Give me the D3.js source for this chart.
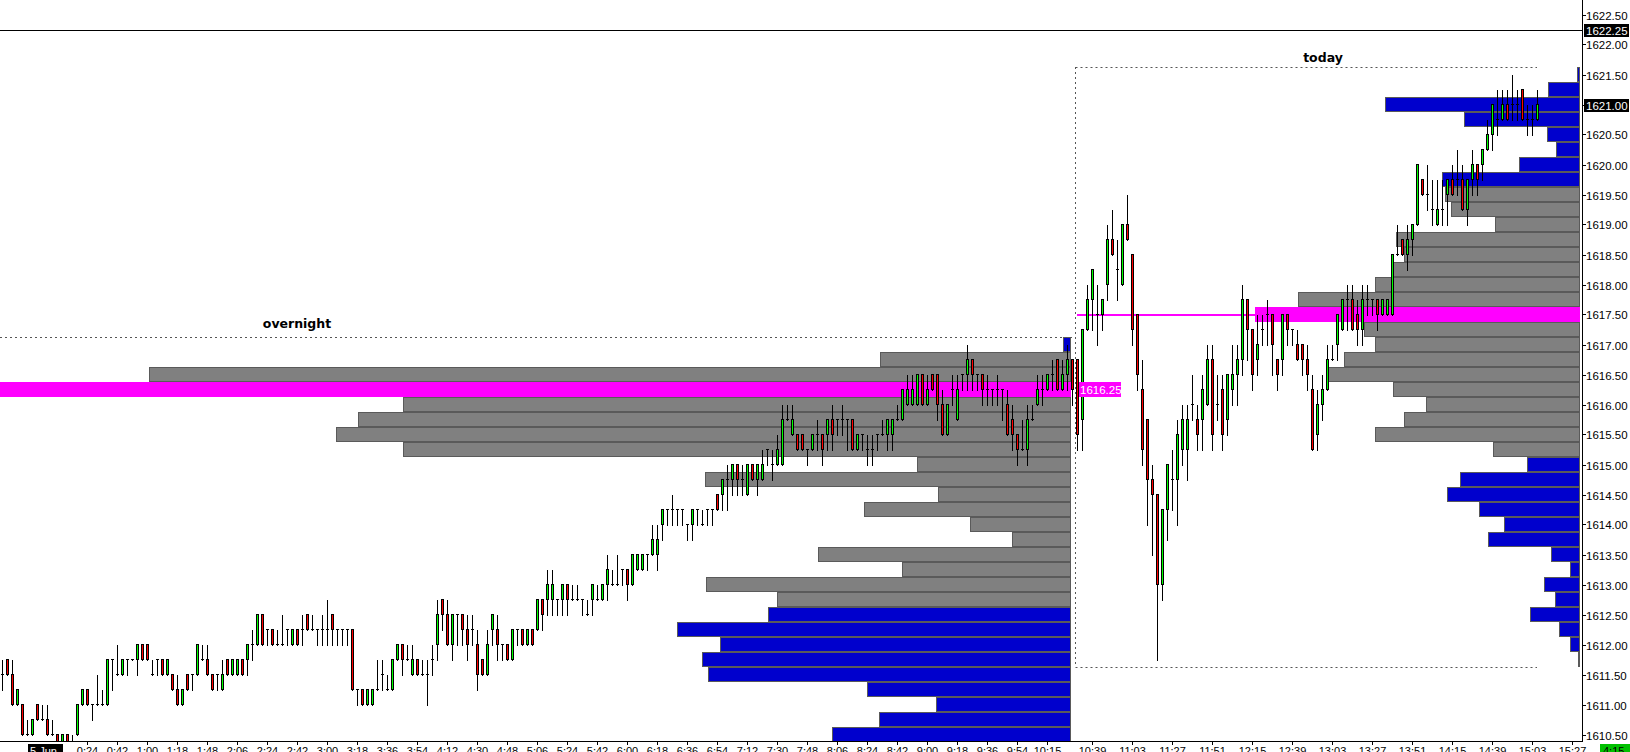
<!DOCTYPE html>
<html><head><meta charset="utf-8">
<script src="https://cdn.jsdelivr.net/npm/d3@7"></script>
<style>body{margin:0;background:#fff;overflow:hidden}svg{display:block}</style>
</head><body><svg id="c" width="1630" height="752"></svg>
<script>
// ---------- DATA ----------
const open = [
1611.5,1611.75,1611.5,1611.0,1611.0,1610.5,1610.5,1611.0,1610.75,1610.75,
1610.5,1610.5,1610.25,1610.5,1610.25,1610.5,1611.0,1611.25,1611.0,1611.0,
1611.0,1611.0,1611.75,1611.5,1611.5,1611.75,1611.75,1611.75,1612.0,1612.0,
1611.5,1611.75,1611.75,1611.5,1611.5,1611.25,1611.0,1611.5,1611.5,1611.5,
1611.75,1611.75,1611.5,1611.5,1611.25,1611.75,1611.5,1611.5,1611.75,1611.75,
1612.0,1612.0,1612.5,1612.25,1612.25,1612.0,1612.0,1612.25,1612.0,1612.25,
1612.25,1612.5,1612.25,1612.25,1612.25,1612.25,1612.5,1612.25,1612.25,1612.25,
1612.25,1611.25,1611.25,1611.0,1611.0,1611.25,1611.5,1611.25,1611.25,1611.75,
1612.0,1611.75,1611.5,1611.75,1611.5,1611.5,1611.75,1612.0,1612.75,1612.5,
1612.0,1612.5,1612.5,1612.25,1612.25,1612.0,1611.75,1611.5,1612.25,1612.25,
1612.0,1612.0,1611.75,1612.25,1612.25,1612.0,1612.25,1612.25,1612.75,1612.75,
1612.75,1612.75,1612.75,1613.0,1612.75,1612.75,1612.75,1612.5,1612.75,1612.75,
1612.75,1613.0,1613.0,1613.0,1613.25,1613.25,1613.0,1613.25,1613.25,1613.5,
1613.5,1613.5,1614.0,1614.25,1614.25,1614.25,1614.25,1614.0,1614.0,1614.25,
1614.0,1614.25,1614.25,1614.5,1614.5,1614.75,1614.75,1615.0,1614.75,1614.5,
1615.0,1614.75,1614.75,1615.25,1615.0,1615.0,1615.0,1615.75,1615.5,1615.5,
1615.5,1615.25,1615.25,1615.5,1615.5,1615.5,1615.75,1615.75,1615.75,1615.75,
1615.75,1615.25,1615.5,1615.25,1615.25,1615.5,1615.5,1615.5,1615.5,1615.75,
1615.75,1616.0,1616.0,1616.0,1616.5,1616.0,1616.5,1616.5,1616.0,1615.5,
1616.25,1615.75,1616.5,1616.5,1616.75,1616.5,1616.5,1616.25,1616.25,1616.25,
1616.25,1616.0,1615.75,1615.5,1615.25,1615.25,1615.75,1616.0,1616.25,1616.25,
1616.5,1616.75,1616.25,1616.5,1616.75,
1616.75,1615.75,1617.25,1617.75,1617.5,1617.5,1618.0,1618.75,1618.25,1618.0,
1619.0,1618.5,1617.5,1616.25,1615.75,1614.75,1614.5,1613.0,1614.25,1614.75,
1614.75,1615.25,1615.25,1616.0,1615.75,1615.75,1616.0,1616.75,1616.0,1616.25,
1615.75,1616.25,1616.5,1616.75,1617.75,1617.25,1616.75,1617.25,1617.5,1617.5,
1616.75,1616.75,1617.5,1617.25,1617.0,1617.0,1616.75,1616.25,1615.5,1616.0,
1616.25,1616.75,1617.0,1617.25,1617.75,1617.75,1617.5,1617.25,1617.75,1617.75,
1617.75,1617.5,1617.5,1617.5,1618.5,1618.75,1618.5,1618.75,1619.0,1619.75,
1619.5,1619.25,1619.0,1619.25,1619.5,1619.75,1619.75,1619.75,1619.25,1619.75,
1620.0,1620.0,1620.25,1620.5,1620.75,1620.75,1621.0,1621.0,1621.0,1621.25,
1620.75,1620.75,1620.75];
const high = [
1611.75,1611.75,1611.75,1611.25,1611.0,1610.75,1610.75,1611.0,1611.0,1611.0,
1610.75,1610.5,1610.5,1610.5,1610.5,1611.0,1611.25,1611.25,1611.0,1611.5,
1611.25,1611.75,1611.75,1612.0,1611.75,1611.75,1611.75,1612.0,1612.0,1612.0,
1611.75,1611.75,1611.75,1611.75,1611.5,1611.5,1611.25,1611.5,1611.5,1612.0,
1612.0,1612.0,1611.5,1611.5,1611.75,1611.75,1611.75,1611.75,1611.75,1612.0,
1612.25,1612.5,1612.5,1612.25,1612.25,1612.25,1612.5,1612.25,1612.25,1612.25,
1612.5,1612.5,1612.5,1612.25,1612.5,1612.75,1612.5,1612.25,1612.25,1612.25,
1612.25,1611.25,1611.25,1611.25,1611.25,1611.75,1611.75,1611.5,1611.75,1612.0,
1612.0,1612.0,1612.0,1611.75,1611.75,1611.75,1612.0,1612.75,1612.75,1612.75,
1612.5,1612.5,1612.5,1612.5,1612.5,1612.25,1611.75,1612.25,1612.5,1612.5,
1612.0,1612.0,1612.25,1612.25,1612.25,1612.25,1612.25,1612.75,1612.75,1613.25,
1613.25,1612.75,1613.0,1613.0,1613.0,1613.0,1612.75,1612.75,1613.0,1613.0,
1613.0,1613.5,1613.25,1613.5,1613.25,1613.25,1613.5,1613.5,1613.5,1613.5,
1614.0,1614.0,1614.25,1614.25,1614.5,1614.25,1614.25,1614.0,1614.25,1614.25,
1614.25,1614.25,1614.25,1614.5,1614.75,1615.0,1615.0,1615.0,1615.0,1615.0,
1615.0,1615.0,1615.25,1615.25,1615.25,1615.5,1616.0,1616.0,1616.0,1615.5,
1615.5,1615.25,1615.5,1615.75,1615.5,1615.75,1616.0,1615.75,1616.0,1615.75,
1615.75,1615.5,1615.5,1615.5,1615.5,1615.5,1615.75,1615.75,1615.75,1616.0,
1616.25,1616.5,1616.5,1616.5,1616.5,1616.5,1616.5,1616.5,1616.25,1616.0,
1616.5,1616.5,1616.5,1617.0,1616.75,1616.5,1616.5,1616.5,1616.25,1616.5,
1616.25,1616.25,1616.0,1615.5,1615.75,1616.0,1616.0,1616.5,1616.5,1616.5,
1616.75,1616.75,1616.75,1617.0,1616.75,
1616.75,1617.25,1618.0,1618.25,1618.0,1617.75,1619.0,1619.25,1618.75,1619.0,
1619.5,1618.5,1617.5,1616.75,1615.75,1615.0,1614.5,1614.25,1615.0,1615.25,
1615.75,1616.0,1616.0,1616.5,1616.0,1616.5,1617.0,1617.0,1616.5,1616.5,
1616.5,1617.0,1617.0,1618.0,1617.75,1617.25,1617.5,1617.5,1617.75,1617.5,
1616.75,1617.5,1617.5,1617.25,1617.25,1617.0,1617.0,1616.5,1616.25,1616.5,
1617.0,1617.0,1617.5,1617.75,1618.0,1618.0,1617.75,1618.0,1618.0,1617.75,
1617.75,1617.75,1617.75,1618.5,1619.0,1618.75,1619.0,1619.0,1620.0,1619.75,
1620.0,1619.75,1619.75,1619.75,1619.75,1620.0,1620.25,1620.0,1619.75,1620.25,
1620.0,1620.25,1620.75,1621.0,1621.25,1621.25,1621.25,1621.5,1621.25,1621.25,
1621.0,1621.0,1621.25];
const low = [
1611.25,1611.5,1611.0,1611.0,1610.5,1610.5,1610.5,1610.75,1610.75,1610.5,
1610.5,1610.25,1610.25,1610.25,1610.25,1610.5,1611.0,1611.0,1610.75,1611.0,
1611.0,1611.0,1611.25,1611.5,1611.5,1611.5,1611.75,1611.5,1611.75,1611.75,
1611.5,1611.5,1611.5,1611.5,1611.25,1611.0,1611.0,1611.25,1611.25,1611.5,
1611.75,1611.5,1611.25,1611.25,1611.25,1611.5,1611.5,1611.5,1611.5,1611.5,
1611.75,1612.0,1612.0,1612.0,1612.0,1612.0,1612.0,1612.0,1612.0,1612.0,
1612.0,1612.25,1612.25,1612.0,1612.0,1612.0,1612.0,1612.0,1612.0,1612.0,
1611.25,1611.0,1611.0,1611.0,1611.0,1611.25,1611.25,1611.25,1611.25,1611.75,
1611.5,1611.75,1611.5,1611.5,1611.5,1611.0,1611.5,1611.75,1612.25,1612.0,
1611.75,1612.0,1612.0,1611.75,1612.0,1611.25,1611.5,1611.5,1612.0,1611.75,
1611.75,1611.75,1611.75,1612.0,1612.0,1612.0,1612.0,1612.25,1612.25,1612.5,
1612.5,1612.5,1612.5,1612.5,1612.75,1612.75,1612.5,1612.5,1612.5,1612.75,
1612.75,1612.75,1613.0,1613.0,1613.0,1612.75,1613.0,1613.25,1613.25,1613.25,
1613.5,1613.25,1613.75,1614.0,1614.0,1614.0,1614.0,1613.75,1613.75,1614.0,
1614.0,1614.0,1614.0,1614.25,1614.25,1614.25,1614.5,1614.5,1614.5,1614.5,
1614.75,1614.5,1614.75,1615.0,1614.75,1615.0,1615.0,1615.75,1615.5,1615.25,
1615.25,1615.0,1615.25,1615.25,1615.0,1615.25,1615.25,1615.5,1615.5,1615.25,
1615.25,1615.25,1615.25,1615.0,1615.0,1615.25,1615.5,1615.25,1615.25,1615.75,
1615.75,1616.0,1616.0,1616.0,1616.0,1616.0,1616.25,1615.75,1615.5,1615.5,
1616.0,1615.75,1616.25,1616.25,1616.25,1616.25,1616.0,1616.0,1616.0,1616.0,
1615.75,1615.5,1615.25,1615.0,1615.25,1615.0,1615.75,1616.0,1616.0,1616.25,
1616.25,1616.25,1616.25,1616.25,1616.0,
1615.25,1615.25,1617.25,1617.25,1617.0,1617.25,1617.75,1618.5,1617.75,1618.0,
1618.75,1617.0,1616.25,1615.0,1614.0,1613.5,1611.75,1612.75,1613.75,1614.25,
1614.0,1615.0,1614.75,1615.75,1615.25,1615.25,1616.0,1615.25,1615.75,1615.25,
1615.5,1616.0,1616.0,1616.5,1616.75,1616.25,1616.5,1617.0,1617.0,1616.5,
1616.25,1616.5,1617.0,1617.0,1616.75,1616.5,1616.25,1615.25,1615.25,1615.75,
1616.25,1616.75,1616.75,1617.25,1617.25,1617.25,1617.0,1617.0,1617.5,1617.5,
1617.25,1617.5,1617.5,1617.5,1618.5,1618.5,1618.25,1618.5,1619.0,1619.5,
1619.25,1619.0,1619.0,1619.0,1619.0,1619.5,1619.5,1619.25,1619.0,1619.5,
1619.5,1619.75,1620.25,1620.25,1620.5,1620.75,1620.75,1620.75,1620.75,1620.75,
1620.5,1620.5,1620.75];
const close = [
1611.5,1611.5,1611.0,1611.25,1610.5,1610.5,1610.75,1610.75,1610.75,1610.5,
1610.5,1610.25,1610.5,1610.25,1610.25,1611.0,1611.25,1611.0,1611.0,1611.0,
1611.0,1611.75,1611.75,1611.5,1611.75,1611.75,1611.75,1612.0,1611.75,1611.75,
1611.5,1611.75,1611.5,1611.75,1611.25,1611.0,1611.25,1611.25,1611.5,1612.0,
1611.75,1611.5,1611.25,1611.5,1611.5,1611.5,1611.75,1611.75,1611.5,1612.0,
1612.0,1612.5,1612.0,1612.25,1612.0,1612.0,1612.0,1612.25,1612.25,1612.0,
1612.25,1612.25,1612.25,1612.25,1612.25,1612.25,1612.25,1612.25,1612.25,1612.25,
1611.25,1611.25,1611.0,1611.25,1611.25,1611.25,1611.5,1611.25,1611.75,1612.0,
1611.75,1611.75,1611.75,1611.5,1611.5,1611.5,1611.75,1612.5,1612.5,1612.0,
1612.5,1612.5,1612.25,1612.0,1612.25,1611.5,1611.5,1612.0,1612.5,1612.0,
1612.0,1611.75,1612.25,1612.25,1612.0,1612.25,1612.0,1612.75,1612.5,1613.0,
1613.0,1612.75,1613.0,1612.75,1612.75,1612.75,1612.75,1612.5,1613.0,1612.75,
1613.0,1613.25,1613.0,1613.0,1613.25,1613.0,1613.5,1613.5,1613.5,1613.5,
1613.75,1613.75,1614.25,1614.25,1614.25,1614.25,1614.25,1614.0,1614.25,1614.25,
1614.0,1614.25,1614.25,1614.25,1614.75,1614.75,1615.0,1614.75,1614.75,1615.0,
1614.75,1615.0,1615.0,1615.25,1615.0,1615.25,1615.75,1615.75,1615.75,1615.25,
1615.25,1615.25,1615.5,1615.5,1615.25,1615.75,1615.5,1615.75,1615.75,1615.75,
1615.25,1615.5,1615.5,1615.25,1615.25,1615.5,1615.5,1615.75,1615.75,1615.75,
1616.25,1616.25,1616.25,1616.5,1616.0,1616.25,1616.25,1616.0,1615.5,1616.0,
1616.25,1616.25,1616.5,1616.75,1616.5,1616.5,1616.25,1616.25,1616.25,1616.25,
1616.25,1615.5,1615.5,1615.25,1615.25,1615.75,1615.75,1616.25,1616.25,1616.5,
1616.5,1616.25,1616.5,1616.75,1616.25,
1615.5,1617.25,1617.75,1618.25,1617.5,1617.75,1618.75,1618.5,1618.25,1619.0,
1618.75,1617.25,1616.5,1615.25,1614.75,1614.5,1613.0,1614.25,1615.0,1614.75,
1615.5,1615.75,1615.75,1616.0,1615.5,1616.25,1616.75,1615.5,1616.0,1615.5,
1616.5,1616.5,1616.75,1617.75,1617.25,1616.5,1617.0,1617.25,1617.5,1617.0,
1616.5,1617.5,1617.25,1617.25,1616.75,1616.75,1616.5,1615.25,1616.0,1616.25,
1616.75,1616.75,1617.5,1617.75,1617.75,1617.25,1617.25,1617.75,1617.75,1617.75,
1617.5,1617.75,1617.75,1618.5,1618.5,1618.5,1618.75,1619.0,1620.0,1619.5,
1619.5,1619.25,1619.25,1619.25,1619.75,1619.5,1619.75,1619.25,1619.75,1620.0,
1619.75,1620.25,1620.5,1621.0,1620.75,1621.0,1620.75,1621.0,1621.0,1620.75,
1620.75,1620.75,1621.0];

const sessionSplit = 215;           // first bar of "today"
const overnightPrices = [1617.0,1616.75,1616.5,1616.25,1616.0,1615.75,1615.5,1615.25,1615.0,1614.75,1614.5,1614.25,1614.0,1613.75,1613.5,1613.25,1613.0,1612.75,1612.5,1612.25,1612.0,1611.75,1611.5,1611.25,1611.0,1610.75,1610.5];
const overnightVolume = [80,1910,9220,11000,6680,7130,7350,6680,1540,3660,1330,2070,1010,590,2530,1690,3650,2940,3030,3940,3510,3690,3630,2040,1350,1920,2390];
const overnightVA = [1612.75, 1616.75];
const overnightPOC = 1616.25;

const todayPrices = [1621.5,1621.25,1621.0,1620.75,1620.5,1620.25,1620.0,1619.75,1619.5,1619.25,1619.0,1618.75,1618.5,1618.25,1618.0,1617.75,1617.5,1617.25,1617.0,1616.75,1616.5,1616.25,1616.0,1615.75,1615.5,1615.25,1615.0,1614.75,1614.5,1614.25,1614.0,1613.75,1613.5,1613.25,1613.0,1612.75,1612.5,1612.25,1612.0,1611.75];
const todayVolume = [30,320,1950,1160,330,240,610,1380,1350,1290,855,1840,1760,1870,2055,2825,3250,2165,2055,2360,2520,1870,1545,1760,2055,870,535,1200,1335,1010,765,920,290,100,365,255,505,210,100,20];
const todayVA = [1615.25, 1619.5];
const todayPOC = 1617.5;

const priceTicks = [1622.5,1622.0,1621.5,1621.0,1620.5,1620.0,1619.5,1619.0,1618.5,1618.0,1617.5,1617.0,1616.5,1616.0,1615.5,1615.0,1614.5,1614.0,1613.5,1613.0,1612.5,1612.0,1611.5,1611.0,1610.5];
const timeLabels = ["0:24","0:42","1:00","1:18","1:48","2:06","2:24","2:42","3:00","3:18","3:36","3:54","4:12","4:30","4:48","5:06","5:24","5:42","6:00","6:18","6:36","6:54","7:12","7:30","7:48","8:06","8:24","8:42","9:00","9:18","9:36","9:54","10:15",
  "10:39","11:03","11:27","11:51","12:15","12:39","13:03","13:27","13:51","14:15","14:39","15:03","15:27"];
const timeBars = [17,23,29,35,41,47,53,59,65,71,77,83,89,95,101,107,113,119,125,131,137,143,149,155,161,167,173,179,185,191,197,203,209,
  218,226,234,242,250,258,266,274,282,290,298,306,314];
const askPrice = 1622.25;
const lastPrice = 1621.0;

// ---------- LAYOUT ----------
const W = 1630, H = 752, axisX = 1582, axisY = 741;
const svg = d3.select("#c");
const y = d3.scaleLinear().domain([1610.5, 1622.5]).range([734.5, 14.5]);
const x = d3.scaleLinear().domain([0, 314]).range([1.7, 1571.7]);
const tick = 0.25;
const font = "'Liberation Sans', Arial, sans-serif";

svg.append("defs").append("clipPath").attr("id","plot")
  .append("rect").attr("x",0).attr("y",0).attr("width",axisX).attr("height",axisY);
const plot = svg.append("g").attr("clip-path","url(#plot)");

// ask line
plot.append("line").attr("x1",0).attr("x2",axisX).attr("y1",Math.round(y(askPrice))+0.5).attr("y2",Math.round(y(askPrice))+0.5)
  .attr("stroke","#000").attr("stroke-width",1);

// ---------- PROFILES ----------
function drawProfile(prices, vols, va, poc, rightEdge, maxW) {
  const vs = d3.scaleLinear().domain([0, d3.max(vols)]).range([0, maxW]);
  const g = plot.append("g").attr("shape-rendering","crispEdges");
  prices.forEach((p, k) => {
    const w = vs(vols[k]);
    const top = Math.round(y(p + tick/2));
    const hgt = Math.round(y(p - tick/2)) - top;
    const isPoc = p === poc;
    const inVA = p >= va[0] && p <= va[1];
    const fill = isPoc ? "#ff00ff" : (inVA ? "#808080" : "#0000cd");
    g.append("rect")
      .attr("x", rightEdge - w + 0.5).attr("y", top + 0.5)
      .attr("width", Math.max(w - 1, 0.5)).attr("height", hgt - 1)
      .attr("fill", fill)
      .attr("stroke", isPoc ? "#ff00ff" : "#5a5a5a").attr("stroke-width", 1);
  });
}
drawProfile(overnightPrices, overnightVolume, overnightVA, overnightPOC, Math.round(x(sessionSplit-1)) - 1, 1100);
drawProfile(todayPrices, todayVolume, todayVA, todayPOC, axisX - 2, 325);

// ---------- SESSION BOXES ----------
const dash = "2,3", dcol = "#555";
const onHigh = d3.max(high.slice(0, sessionSplit)) + tick/2;
const tdHigh = d3.max(high.slice(sessionSplit)) + tick/2;
const tdLow = d3.min(low.slice(sessionSplit)) - tick/2;
const boxL = Math.round(x(sessionSplit) - 2) + 0.5;
const boxR = Math.round(x(close.length - 1));
plot.append("line").attr("x1",0).attr("x2",Math.round(x(sessionSplit-1))).attr("y1",Math.round(y(onHigh))+0.5).attr("y2",Math.round(y(onHigh))+0.5)
  .attr("stroke",dcol).attr("stroke-dasharray",dash);
plot.append("line").attr("x1",boxL).attr("x2",boxR).attr("y1",Math.round(y(tdHigh))+0.5).attr("y2",Math.round(y(tdHigh))+0.5)
  .attr("stroke",dcol).attr("stroke-dasharray",dash);
plot.append("line").attr("x1",boxL).attr("x2",boxR).attr("y1",Math.round(y(tdLow))+0.5).attr("y2",Math.round(y(tdLow))+0.5)
  .attr("stroke",dcol).attr("stroke-dasharray",dash);
plot.append("line").attr("x1",boxL).attr("x2",boxL).attr("y1",Math.round(y(tdHigh))).attr("y2",Math.round(y(tdLow)))
  .attr("stroke",dcol).attr("stroke-dasharray",dash);

// today POC line
{
  const vs = d3.scaleLinear().domain([0, d3.max(todayVolume)]).range([0, 325]);
  plot.append("line").attr("x1", Math.round(x(sessionSplit))).attr("x2", axisX - 2 - vs(d3.max(todayVolume)))
    .attr("y1", y(todayPOC)+0.5).attr("y2", y(todayPOC)+0.5).attr("stroke","#ff00ff").attr("stroke-width",2);
}

// ---------- CANDLES ----------
const n = Math.min(open.length, high.length, low.length, close.length);
const cg = plot.append("g").attr("shape-rendering","crispEdges");
for (let i = 0; i < n; i++) {
  const c = Math.round(x(i));
  const o = open[i], cl = close[i];
  const hi = Math.max(high[i], o, cl), lo = Math.min(low[i], o, cl);
  cg.append("line").attr("x1", c + 0.5).attr("x2", c + 0.5).attr("y1", y(hi)).attr("y2", y(lo) + 1)
    .attr("stroke", "#000").attr("stroke-width", 1);
  if (o === cl) {
    cg.append("line").attr("x1", c - 1).attr("x2", c + 2).attr("y1", y(o)).attr("y2", y(o))
      .attr("stroke", "#000").attr("stroke-width", 1);
  } else {
    const top = y(Math.max(o, cl)), bot = y(Math.min(o, cl));
    cg.append("rect").attr("x", c - 0.5).attr("y", top).attr("width", 2).attr("height", bot - top)
      .attr("fill", cl > o ? "#00ff00" : "#ff0000").attr("stroke", "#000").attr("stroke-width", 1);
  }
}

// overnight POC label
{
  const lx = Math.round(x(sessionSplit)) + 2;
  const top = Math.round(y(overnightPOC + tick/2));
  plot.append("rect").attr("x", lx).attr("y", top).attr("width", 42).attr("height", 15).attr("fill", "#ff00ff");
  plot.append("text").attr("x", lx + 1).attr("y", top + 12).attr("fill", "#fff")
    .attr("font-family", font).attr("font-size", "11.5px").text(overnightPOC.toFixed(2));
}

// session titles
svg.append("text").attr("x", 297).attr("y", 327.5).attr("text-anchor","middle")
  .attr("font-family","'DejaVu Sans', Verdana, sans-serif").attr("font-weight","bold").attr("font-size","12.5px").text("overnight");
svg.append("text").attr("x", 1323).attr("y", 62).attr("text-anchor","middle")
  .attr("font-family","'DejaVu Sans', Verdana, sans-serif").attr("font-weight","bold").attr("font-size","12.5px").text("today");

// ---------- AXES ----------
const ax = svg.append("g").attr("shape-rendering","crispEdges");
ax.append("line").attr("x1", axisX + 0.5).attr("x2", axisX + 0.5).attr("y1", 0).attr("y2", axisY + 1).attr("stroke", "#000");
ax.append("line").attr("x1", 0).attr("x2", axisX + 1).attr("y1", axisY + 0.5).attr("y2", axisY + 0.5).attr("stroke", "#000");
priceTicks.forEach(p => {
  const yy = Math.round(y(p)) + 0.5;
  ax.append("line").attr("x1", axisX).attr("x2", axisX + 4).attr("y1", yy).attr("y2", yy).attr("stroke", "#000");
  svg.append("text").attr("x", axisX + 4).attr("y", yy + 4).attr("font-family", font).attr("font-size", "11.5px")
    .attr("fill", "#000").text(p.toFixed(2));
});
function priceBox(p) {
  const yy = Math.round(y(p));
  svg.append("rect").attr("x", axisX + 2).attr("y", yy - 6).attr("width", W - axisX - 3).attr("height", 13).attr("fill", "#000");
  svg.append("text").attr("x", axisX + 4).attr("y", yy + 4.5).attr("font-family", font).attr("font-size", "11.5px")
    .attr("fill", "#fff").text(p.toFixed(2));
}
priceBox(askPrice);
priceBox(lastPrice);

timeLabels.forEach((t, k) => {
  const xx = Math.round(x(timeBars[k])) + 0.5;
  ax.append("line").attr("x1", xx).attr("x2", xx).attr("y1", axisY).attr("y2", axisY + 4).attr("stroke", "#000");
  svg.append("text").attr("x", xx).attr("y", axisY + 14).attr("text-anchor", "middle")
    .attr("font-family", font).attr("font-size", "11px").attr("fill", "#000").text(t);
});
// date badge and timer badge
svg.append("rect").attr("x", 28).attr("y", axisY + 3).attr("width", 35).attr("height", 12).attr("fill", "#000");
svg.append("text").attr("x", 30).attr("y", axisY + 14).attr("font-family", font).attr("font-size", "11px").attr("fill", "#fff").text("5 Jun");
svg.append("rect").attr("x", 1600).attr("y", axisY + 3).attr("width", 30).attr("height", 12).attr("fill", "#00c000");
svg.append("text").attr("x", 1603).attr("y", axisY + 14).attr("font-family", font).attr("font-size", "11px").attr("fill", "#000").text("4:15");
</script></body></html>
